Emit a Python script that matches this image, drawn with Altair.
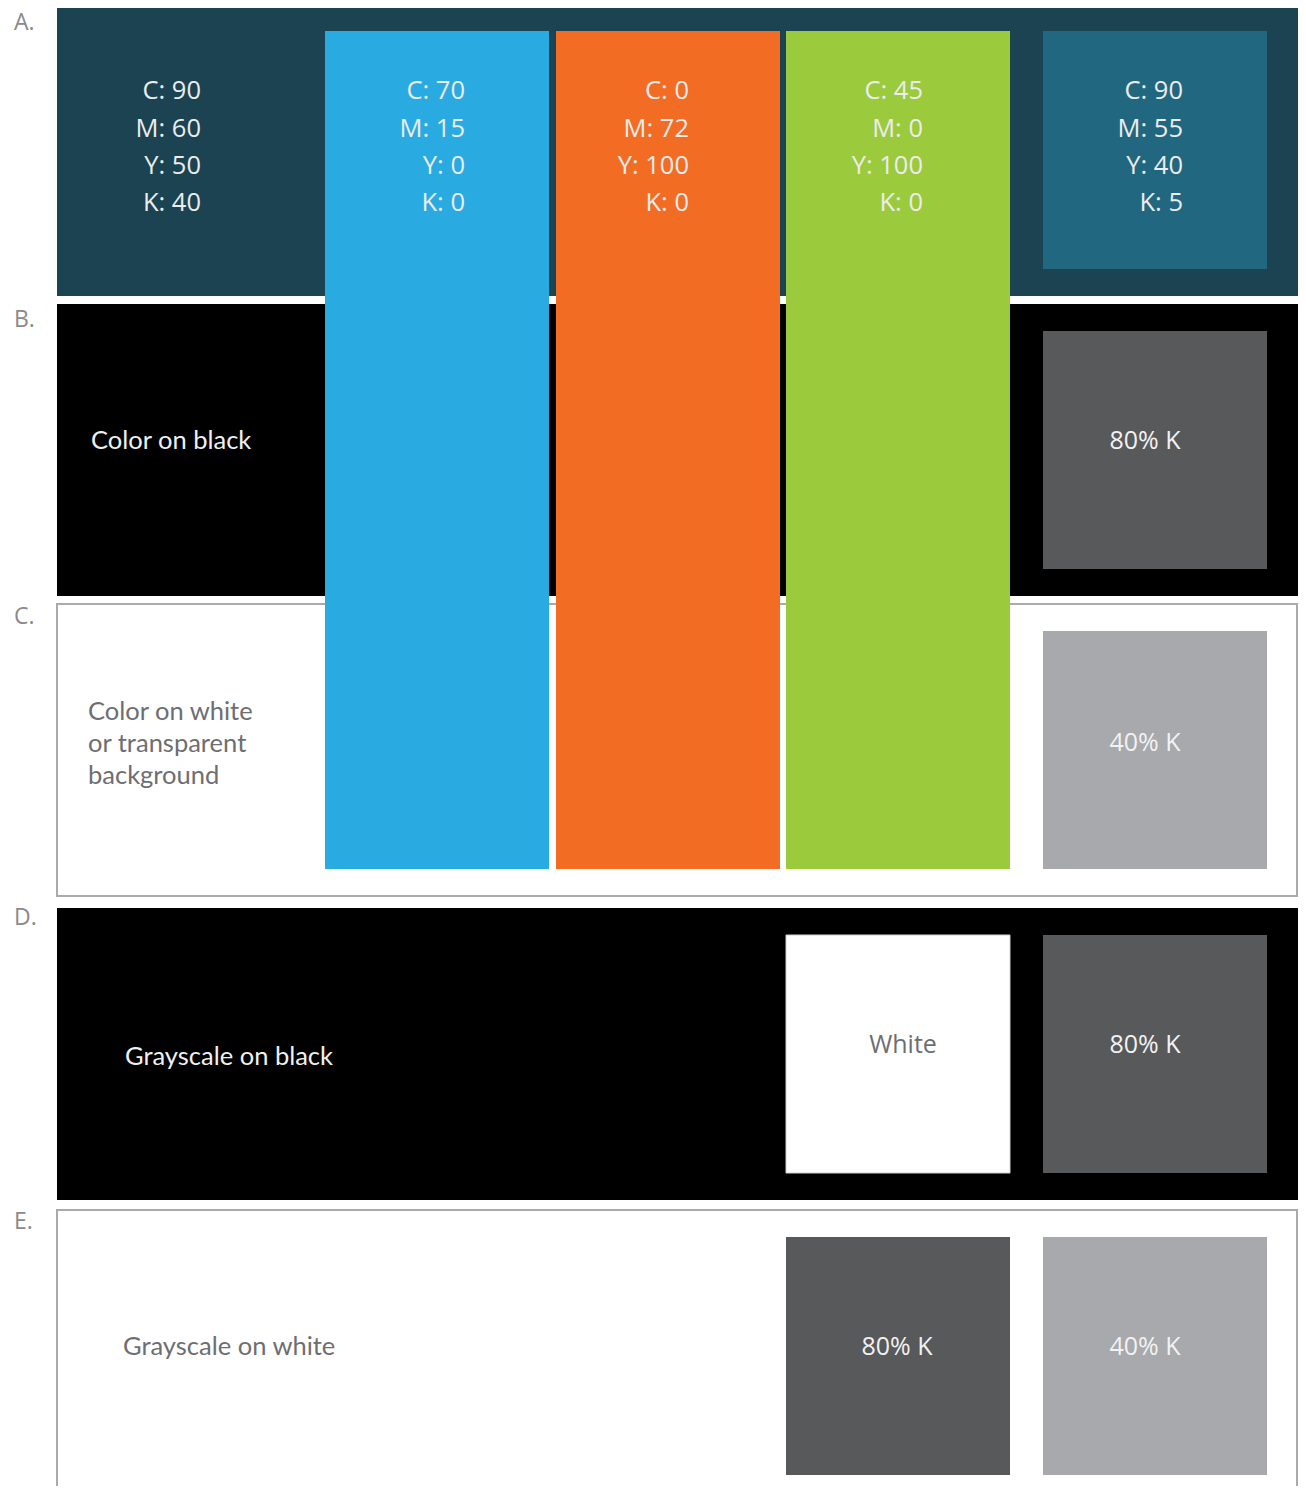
import altair as alt
import pandas as pd

# ---- content ----
row_letters = ["A.", "B.", "C.", "D.", "E."]
cmyk_values = [
    ["C: 90", "M: 60", "Y: 50", "K: 40"],
    ["C: 70", "M: 15", "Y: 0", "K: 0"],
    ["C: 0", "M: 72", "Y: 100", "K: 0"],
    ["C: 45", "M: 0", "Y: 100", "K: 0"],
    ["C: 90", "M: 55", "Y: 40", "K: 5"],
]
brand_colors = ["#29abe2", "#f36c24", "#9bca3c"]
panel_fills = ["#1b4351", "#000000", "#ffffff", "#000000", "#ffffff"]
descriptions = [
    ["Color on black"],
    ["Color on white", "or transparent", "background"],
    ["Grayscale on black"],
    ["Grayscale on white"],
]
swatch_labels = ["80% K", "40% K", "White", "80% K", "80% K", "40% K"]
swatch_fills = ["#58595b", "#a7a9ac", "#ffffff", "#58595b", "#58595b", "#a7a9ac"]
accent_fill = "#21677f"

# ---- layout (reference pixel space) ----
panel_x = (57, 1300)
panel_tops = [4, 304, 604, 908, 1210]
panel_h = 292
col_lefts = [325, 556, 786]
col_w = 224
col_span = (31, 869)
sq_left_right = 1043
sq_left_mid = 786
sq_h = 238
sq_off = 27

rects = []
for i, top in enumerate(panel_tops):
    bottom = top + panel_h if i < 4 else 1520
    white = panel_fills[i] == "#ffffff"
    rects.append(dict(x=panel_x[0], x2=panel_x[1] - (3 if white else 0), y=top, y2=bottom,
                      fill=panel_fills[i], stroke="#aaaaaa" if white else panel_fills[i],
                      sw=2 if white else 0))
for left, c in zip(col_lefts, brand_colors):
    rects.append(dict(x=left, x2=left + col_w, y=col_span[0], y2=col_span[1],
                      fill=c, stroke=c, sw=0))
rects.append(dict(x=sq_left_right, x2=sq_left_right + col_w, y=panel_tops[0] + sq_off,
                  y2=panel_tops[0] + sq_off + sq_h, fill=accent_fill, stroke=accent_fill, sw=0))
swatch_pos = [(sq_left_right, 1), (sq_left_right, 2), (sq_left_mid, 3),
              (sq_left_right, 3), (sq_left_mid, 4), (sq_left_right, 4)]
for (left, row), f in zip(swatch_pos, swatch_fills):
    top = panel_tops[row] + sq_off
    rects.append(dict(x=left, x2=left + col_w, y=top, y2=top + sq_h, fill=f,
                      stroke="#d0d0d0" if f == "#ffffff" else f, sw=1 if f == "#ffffff" else 0))
rect_df = pd.DataFrame(rects)

W, H = 1298, 1486
X = alt.Scale(domain=[0, W], nice=False, zero=False)
Y = alt.Scale(domain=[0, H], nice=False, zero=False, reverse=True)

def xe(f="x"):
    return alt.X(f"{f}:Q", scale=X, axis=None)

def ye(f="y"):
    return alt.Y(f"{f}:Q", scale=Y, axis=None)

rect_layer = alt.Chart(rect_df).mark_rect().encode(
    x=xe(), x2="x2:Q", y=ye(), y2="y2:Q",
    fill=alt.Fill("fill:N", scale=None),
    stroke=alt.Stroke("stroke:N", scale=None),
    strokeWidth=alt.StrokeWidth("sw:Q", scale=None),
)

cmyk_right = [201, 465, 689, 923, 1183]
line_y = [91, 129, 166, 203]
cm = []
for xr, vals in zip(cmyk_right, cmyk_values):
    for yy, v in zip(line_y, vals):
        cm.append(dict(x=xr, y=yy, t=v))
cmyk_layer = alt.Chart(pd.DataFrame(cm)).mark_text(
    align="right", baseline="middle", font="Open Sans", fontSize=25.5, color="#ececec"
).encode(x=xe(), y=ye(), text="t:N")

desc_pos = [(91, [441]), (88, [712, 744, 776]), (125, [1057]), (123, [1347])]
desc_colors = ["#f0f0f0", "#6d6e71", "#f0f0f0", "#6d6e71"]
dd = []
for (xl, ys), lines, c in zip(desc_pos, descriptions, desc_colors):
    for yy, t in zip(ys, lines):
        dd.append(dict(x=xl, y=yy, t=t, c=c))
desc_layer = alt.Chart(pd.DataFrame(dd)).mark_text(
    align="left", baseline="middle", font="Lato", fontSize=25.5
).encode(x=xe(), y=ye(), text="t:N", color=alt.Color("c:N", scale=None))

lab_pos = [(1145, 441), (1145, 743), (903, 1045), (1145, 1045), (897, 1347), (1145, 1347)]
ll = []
for (xc, yc), t in zip(lab_pos, swatch_labels):
    ll.append(dict(x=xc, y=yc, t=t, c="#6d6e71" if t == "White" else "#f2f2f2"))
lab_layer = alt.Chart(pd.DataFrame(ll)).mark_text(
    align="center", baseline="middle", font="Open Sans", fontSize=25
).encode(x=xe(), y=ye(), text="t:N", color=alt.Color("c:N", scale=None))

letter_y = [23, 320, 617, 918, 1222]
let_df = pd.DataFrame(dict(x=[14] * 5, y=letter_y, t=row_letters))
let_layer = alt.Chart(let_df).mark_text(
    align="left", baseline="middle", font="Open Sans", fontSize=23, color="#8a8a8a"
).encode(x=xe(), y=ye(), text="t:N")

chart = alt.layer(rect_layer, cmyk_layer, desc_layer, lab_layer, let_layer).properties(
    width=W, height=H,
    padding={"left": -8, "top": -8, "right": 0, "bottom": 0},
    autosize=alt.AutoSizeParams(type="none"),
    background="#ffffff"
).configure_view(stroke=None)

chart.save("out.html", embed_options={"renderer": "svg", "actions": False})
